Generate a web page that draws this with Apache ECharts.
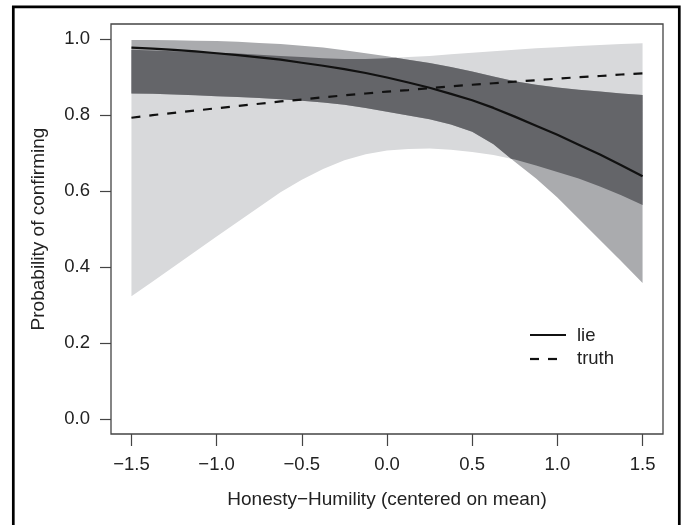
<!DOCTYPE html>
<html>
<head>
<meta charset="utf-8">
<script src="https://cdn.jsdelivr.net/npm/echarts@6/dist/echarts.min.js"></script>
<style>
  html, body { margin: 0; padding: 0; background: #fff; }
  #chart { width: 685px; height: 525px; }
</style>
</head>
<body>
<div id="chart"></div>
<script>
// values (x = Honesty-Humility, y = probability)
const xs = [-1.5, -1.375, -1.25, -1.125, -1.0, -0.875, -0.75, -0.625, -0.5, -0.375, -0.25, -0.125,
  0, 0.125, 0.25, 0.375, 0.5, 0.625, 0.75, 0.875, 1.0, 1.125, 1.25, 1.375, 1.5];

const lieFit = [0.978, 0.975, 0.972, 0.968, 0.963, 0.958, 0.952, 0.946, 0.938, 0.930, 0.921, 0.911,
  0.899, 0.886, 0.872, 0.856, 0.839, 0.819, 0.796, 0.772, 0.748, 0.722, 0.696, 0.668, 0.639];
const lieUpper = [0.998, 0.998, 0.997, 0.996, 0.995, 0.993, 0.990, 0.987, 0.983, 0.978, 0.971, 0.963,
  0.955, 0.946, 0.937, 0.927, 0.915, 0.902, 0.889, 0.880, 0.873, 0.867, 0.862, 0.857, 0.853];
const lieLower = [0.857, 0.856, 0.854, 0.852, 0.850, 0.848, 0.845, 0.842, 0.838, 0.833, 0.827, 0.819,
  0.809, 0.799, 0.789, 0.775, 0.756, 0.723, 0.677, 0.633, 0.583, 0.527, 0.471, 0.415, 0.358];

const truthFit = [0.793, 0.800, 0.806, 0.812, 0.818, 0.824, 0.830, 0.836, 0.841, 0.847, 0.852, 0.857,
  0.862, 0.866, 0.871, 0.876, 0.880, 0.884, 0.888, 0.892, 0.896, 0.900, 0.903, 0.907, 0.910];
const truthUpper = [0.972, 0.970, 0.968, 0.966, 0.964, 0.962, 0.959, 0.956, 0.953, 0.950, 0.948, 0.948,
  0.950, 0.953, 0.956, 0.960, 0.964, 0.968, 0.972, 0.976, 0.979, 0.982, 0.985, 0.987, 0.989];
const truthLower = [0.323, 0.362, 0.401, 0.441, 0.480, 0.519, 0.558, 0.597, 0.630, 0.658, 0.681, 0.697,
  0.707, 0.711, 0.712, 0.709, 0.703, 0.695, 0.683, 0.667, 0.650, 0.633, 0.612, 0.589, 0.563];

const xTicks = [-1.5, -1.0, -0.5, 0, 0.5, 1.0, 1.5];
const yTicks = [0, 0.2, 0.4, 0.6, 0.8, 1.0];

const FONT = "'Liberation Sans', Arial, sans-serif";

// points of a curve, with the crossings of a and b added when picking min / max
function envelope(a, b, pick) {
  const pts = [];
  for (let i = 0; i < xs.length; i++) {
    if (i > 0) {
      const d0 = a[i - 1] - b[i - 1], d1 = a[i] - b[i];
      if (d0 * d1 < 0) {
        const t = d0 / (d0 - d1);
        pts.push([xs[i - 1] + t * (xs[i] - xs[i - 1]), a[i - 1] + t * (a[i] - a[i - 1])]);
      }
    }
    pts.push([xs[i], pick(a[i], b[i])]);
  }
  return pts;
}

function asPoints(arr) {
  return arr.map((v, i) => [xs[i], v]);
}

function bandSeries(upperPts, lowerPts, color, z) {
  return {
    type: "custom",
    silent: true,
    z: z,
    data: [[0, 0]],
    renderItem: function (params, api) {
      const top = upperPts.map((p) => api.coord(p));
      const bottom = lowerPts.slice().reverse().map((p) => api.coord(p));
      return {
        type: "polygon",
        shape: { points: top.concat(bottom) },
        style: { fill: color },
      };
    },
  };
}

function fmt(v) {
  const s = Math.abs(v).toFixed(1);
  return v < 0 ? "\u2212" + s : s;
}

let myChart = echarts.init(document.getElementById("chart"));

let option = {
  animation: false,
  grid: {
    left: 111,
    top: 24,
    width: 552,
    height: 410,
    show: true,
    borderColor: "#444",
    borderWidth: 1.3,
  },
  xAxis: {
    type: "value",
    min: -1.62,
    max: 1.62,
    axisLine: { show: false, onZero: false },
    splitLine: { show: false },
    axisTick: {
      show: true,
      customValues: xTicks,
      length: 12,
      lineStyle: { color: "#444", width: 1.2 },
    },
    axisLabel: {
      customValues: xTicks,
      formatter: fmt,
      margin: 21,
      fontSize: 18.5,
      fontFamily: FONT,
      color: "#222",
    },
    name: "Honesty\u2212Humility (centered on mean)",
    nameLocation: "middle",
    nameGap: 56,
    nameTextStyle: { fontSize: 19, fontFamily: FONT, color: "#222" },
  },
  yAxis: {
    type: "value",
    min: -0.04,
    max: 1.04,
    axisLine: { show: false, onZero: false },
    splitLine: { show: false },
    axisTick: {
      show: true,
      customValues: yTicks,
      length: 11,
      lineStyle: { color: "#444", width: 1.2 },
    },
    axisLabel: {
      customValues: yTicks,
      formatter: fmt,
      margin: 21,
      fontSize: 18.5,
      fontFamily: FONT,
      color: "#222",
    },
    name: "Probability of confirming",
    nameLocation: "middle",
    nameRotate: 90,
    nameGap: 63,
    nameTextStyle: { fontSize: 19, fontFamily: FONT, color: "#222" },
  },
  series: [
    bandSeries(asPoints(truthUpper), asPoints(truthLower), "#d8d9db", 1),
    bandSeries(asPoints(lieUpper), asPoints(lieLower), "#aaabae", 2),
    bandSeries(
      envelope(lieUpper, truthUpper, Math.min),
      envelope(lieLower, truthLower, Math.max),
      "#646569",
      3
    ),
    {
      name: "truth",
      type: "line",
      z: 4,
      showSymbol: false,
      data: asPoints(truthFit),
      lineStyle: { color: "#111", width: 2.2, type: [9, 9] },
    },
    {
      name: "lie",
      type: "line",
      z: 5,
      showSymbol: false,
      data: asPoints(lieFit),
      lineStyle: { color: "#111", width: 2.2 },
    },
  ],
  graphic: [
    {
      type: "rect",
      shape: { x: 13.3, y: 6.8, width: 666, height: 600 },
      style: { fill: "none", stroke: "#000", lineWidth: 2.7 },
    },
    {
      type: "line",
      shape: { x1: 530, y1: 335, x2: 566, y2: 335 },
      style: { stroke: "#111", lineWidth: 2.2 },
    },
    {
      type: "line",
      shape: { x1: 530, y1: 359, x2: 566, y2: 359 },
      style: { stroke: "#111", lineWidth: 2.2, lineDash: [9, 9] },
    },
    {
      type: "text",
      x: 577,
      y: 336,
      style: { text: "lie", font: "18.5px " + FONT, fill: "#222", verticalAlign: "middle" },
    },
    {
      type: "text",
      x: 577,
      y: 359,
      style: { text: "truth", font: "18.5px " + FONT, fill: "#222", verticalAlign: "middle" },
    },
  ],
};

myChart.setOption(option);
</script>
</body>
</html>
